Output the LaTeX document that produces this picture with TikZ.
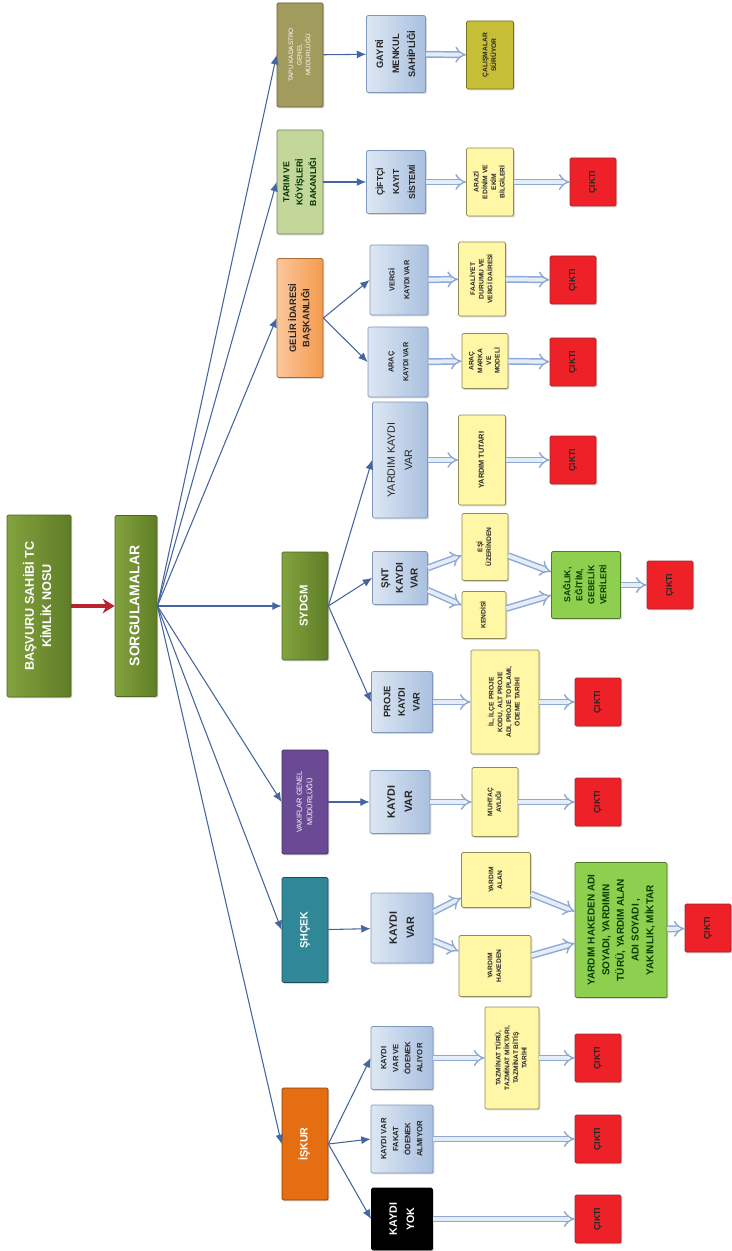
\documentclass[tikz,border=0pt]{standalone}
\usepackage{fontspec}
\setmainfont{Liberation Sans}
\usepackage{graphicx}
\usetikzlibrary{arrows.meta,shadows}

\definecolor{kokAcik}{HTML}{82A33E}
\definecolor{kokKoyu}{HTML}{5F7D27}
\definecolor{kokKenar}{HTML}{4E6820}
\definecolor{tapuRenk}{HTML}{A29B5E}
\definecolor{tarimRenk}{HTML}{C4D79B}
\definecolor{gelirAcik}{HTML}{FBC79A}
\definecolor{gelirKoyu}{HTML}{F59A4E}
\definecolor{vakifRenk}{HTML}{6A4A94}
\definecolor{shcekRenk}{HTML}{2F8798}
\definecolor{iskurRenk}{HTML}{E56E12}
\definecolor{maviAcik}{HTML}{DDE7F3}
\definecolor{maviKoyu}{HTML}{A9C0DF}
\definecolor{maviKenar}{HTML}{7F97BC}
\definecolor{sariDolgu}{HTML}{FFF7A6}
\definecolor{sariKenar}{HTML}{8E8B5A}
\definecolor{zeytin}{HTML}{C6BE36}
\definecolor{yesilDolgu}{HTML}{8FCF50}
\definecolor{yesilKenar}{HTML}{4F7A2A}
\definecolor{ciktiRenk}{HTML}{EE2128}
\definecolor{ciktiKenar}{HTML}{A0282C}
\definecolor{okKirmizi}{HTML}{B8232E}
\definecolor{dalMavi}{HTML}{44659F}
\definecolor{ciftMavi}{HTML}{8EAAD4}
\definecolor{ciftIc}{HTML}{E4ECF7}

\newcommand{\yazi}[2]{\fontsize{#1}{#2}\selectfont}
\newcommand{\dik}[1]{\rotatebox{90}{\begin{tabular}{@{}c@{}}#1\end{tabular}}}

\tikzset{
  sz/.style 2 args={minimum width=#1*0.75pt, minimum height=#2*0.75pt},
  kutu/.style={rectangle, inner sep=1pt, line width=0.6pt, rounded corners=1pt,
    drop shadow={opacity=0.3, shadow xshift=1pt, shadow yshift=-1pt}},
  kurum/.style={kutu, text=white},
  mavi/.style={kutu, draw=maviKenar, left color=maviAcik, right color=maviKoyu, text=black!85},
  sari/.style={kutu, draw=sariKenar, fill=sariDolgu, text=black!85, font=\yazi{5}{6.5}\bfseries},
  yesil/.style={kutu, draw=yesilKenar, fill=yesilDolgu, text=green!25!black, font=\yazi{7.5}{11}\bfseries},
  ciktikutu/.style={kutu, draw=ciktiKenar, fill=ciktiRenk, text=black!85, sz={46}{48}, font=\yazi{6.5}{8}\bfseries},
  kalinok/.style={draw=okKirmizi, line width=2.6pt, -{Stealth[length=9pt,width=11pt]}},
  dal/.style={draw=dalMavi, line width=0.8pt, -{Latex[length=7pt,width=6pt]}},
  cift/.style={draw=ciftMavi, double=ciftIc, double distance=3pt, line width=1.1pt, -{Implies}}
}

\begin{document}
\begin{tikzpicture}[x=0.75pt, y=-0.75pt]
  \useasboundingbox (0,0) rectangle (731,1251);

  % root and queries
  \node[kurum, sz={64}{182}, left color=kokAcik, right color=kokKoyu, draw=kokKenar, font=\yazi{9.5}{13}\bfseries] (basvuru) at (39,606) {\dik{BAŞVURU SAHİBİ TC\\KİMLİK NOSU}};
  \node[kurum, sz={42}{181}, left color=kokAcik, right color=kokKoyu, draw=kokKenar, font=\yazi{10.5}{13}\bfseries] (sorg) at (136,606) {\dik{SORGULAMALAR}};

  % institutions
  \node[kurum, sz={46}{104}, fill=tapuRenk, draw=tapuRenk!60!black, font=\yazi{4.8}{6.5}] (tapu) at (300,55) {\dik{TAPU KADASTRO\\GENEL\\MÜDÜRLÜĞÜ}};
  \node[kutu, sz={46}{104}, fill=tarimRenk, draw=tarimRenk!60!black, text=green!20!black, font=\yazi{6.5}{10}\bfseries] (tarim) at (300,182) {\dik{TARIM VE\\KÖYİŞLERİ\\BAKANLIĞI}};
  \node[kutu, sz={46}{119}, left color=gelirAcik, right color=gelirKoyu, draw=gelirKoyu!70!black, text=black!85, font=\yazi{7}{10}\bfseries] (gelir) at (300,318) {\dik{GELİR İDARESİ\\BAŞKANLIĞI}};
  \node[kurum, sz={46}{108}, left color=kokAcik, right color=kokKoyu, draw=kokKenar, font=\yazi{8.5}{10}\bfseries] (sydgm) at (305,606) {\dik{SYDGM}};
  \node[kurum, sz={46}{104}, fill=vakifRenk, draw=vakifRenk!60!black, font=\yazi{5.5}{8}] (vakif) at (305,802) {\dik{VAKIFLAR GENEL\\MÜDÜRLÜĞÜ}};
  \node[kurum, sz={46}{105}, fill=shcekRenk, draw=shcekRenk!60!black, font=\yazi{8}{10}\bfseries] (shcek) at (305,930) {\dik{ŞHÇEK}};
  \node[kurum, sz={46}{112}, fill=iskurRenk, draw=iskurRenk!60!black, font=\yazi{8}{10}\bfseries] (iskur) at (305,1144) {\dik{İŞKUR}};

  % records
  \node[mavi, sz={59}{77}, font=\yazi{7}{12}\bfseries] (gayri) at (396,54) {\dik{GAYRİ\\MENKUL\\SAHİPLİĞİ}};
  \node[mavi, sz={59}{63}, font=\yazi{6.5}{12}\bfseries] (ciftci) at (396,182) {\dik{ÇİFTÇİ\\KAYIT\\SİSTEMİ}};
  \node[mavi, sz={58}{70}, font=\yazi{5.5}{11}\bfseries] (vergi) at (399,280) {\dik{VERGİ\\KAYDI VAR}};
  \node[mavi, sz={60}{70}, font=\yazi{5.5}{11}\bfseries] (arac) at (398,362) {\dik{ARAÇ\\KAYDI VAR}};
  \node[mavi, sz={55}{116}, font=\yazi{8}{13}] (yardimk) at (400,460) {\dik{YARDIM KAYDI\\VAR}};
  \node[mavi, sz={55}{53}, font=\yazi{7.5}{11}\bfseries] (snt) at (400,578) {\dik{ŞNT\\KAYDI\\VAR}};
  \node[mavi, sz={61}{61}, font=\yazi{7}{11}\bfseries] (proje) at (402,702) {\dik{PROJE\\KAYDI\\VAR}};
  \node[mavi, sz={60}{63}, font=\yazi{8}{13}\bfseries] (vkaydi) at (400,802) {\dik{KAYDI\\VAR}};
  \node[mavi, sz={62}{70}, font=\yazi{8}{13}\bfseries] (skaydi) at (402,928) {\dik{KAYDI\\VAR}};
  \node[mavi, sz={62}{63}, font=\yazi{5.8}{9}\bfseries] (odenek) at (402,1058) {\dik{KAYDI\\VAR VE\\ÖDENEK\\ALIYOR}};
  \node[mavi, sz={62}{68}, font=\yazi{5.8}{9}\bfseries] (fakat) at (402,1139) {\dik{KAYDI VAR\\FAKAT\\ÖDENEK\\ALMIYOR}};
  \node[kurum, sz={61}{62}, fill=black, draw=black, font=\yazi{8}{13}\bfseries] (yok) at (402,1219) {\dik{KAYDI\\YOK}};

  % details
  \node[sari, sz={47}{68}, fill=zeytin, draw=zeytin!60!black] (calisma) at (490,55) {\dik{ÇALIŞMALAR\\SÜRÜYOR}};
  \node[sari, sz={47}{68}] (arazi) at (490,182) {\dik{ARAZİ\\EDİNİM VE\\EKİM\\BİLGİLERİ}};
  \node[sari, sz={47}{74}] (faaliyet) at (482,279) {\dik{FAALİYET\\DURUMU VE\\VERGİ DAİRESİ}};
  \node[sari, sz={46}{55}] (marka) at (485,361) {\dik{ARAÇ\\MARKA\\VE\\MODELİ}};
  \node[sari, sz={47}{90}, font=\yazi{5.5}{7}\bfseries] (tutari) at (482,460) {\dik{YARDIM TUTARI}};
  \node[sari, sz={46}{67}] (esi) at (485,547) {\dik{EŞİ\\ÜZERİNDEN}};
  \node[sari, sz={44}{47}] (kendisi) at (484,615) {\dik{KENDİSİ}};
  \node[sari, sz={68}{104}] (il) at (505,702) {\dik{İL, İLÇE PROJE\\KODU, ALT PROJE\\ADI, PROJE TOPLAMI,\\ÖDEME TARİHİ}};
  \node[sari, sz={46}{69}] (muhtac) at (495,802) {\dik{MUHTAÇ\\AYLIĞI}};
  \node[sari, sz={69}{55}] (alan) at (496,880) {\dik{YARDIM\\ALAN}};
  \node[sari, sz={72}{61}] (hakeden) at (495,966) {\dik{YARDIM\\HAKEDEN}};
  \node[sari, sz={54}{102}] (tazminat) at (512,1058) {\dik{TAZMİNAT TÜRÜ,\\TAZMİNAT MİKTARI,\\TAZMİNAT BİTİŞ\\TARİHİ}};
  \node[yesil, sz={69}{67}, font=\yazi{6.5}{9}\bfseries] (saglik) at (586,585) {\dik{SAĞLIK,\\EĞİTİM,\\GEBELİK\\VERİLERİ}};
  \node[yesil, sz={92}{135}] (shveri) at (621,930) {\dik{YARDIM HAKEDEN ADI\\SOYADI, YARDIMIN\\TÜRÜ, YARDIM ALAN\\ADI SOYADI ,\\YAKINLIK, MİKTAR}};

  % outputs
  \node[ciktikutu] (cikti1) at (593,182) {\dik{ÇIKTI}};
  \node[ciktikutu] (cikti2) at (573,280) {\dik{ÇIKTI}};
  \node[ciktikutu] (cikti3) at (573,362) {\dik{ÇIKTI}};
  \node[ciktikutu] (cikti4) at (573,460) {\dik{ÇIKTI}};
  \node[ciktikutu] (cikti5) at (670,585) {\dik{ÇIKTI}};
  \node[ciktikutu] (cikti6) at (598,702) {\dik{ÇIKTI}};
  \node[ciktikutu] (cikti7) at (598,802) {\dik{ÇIKTI}};
  \node[ciktikutu] (cikti8) at (708,928) {\dik{ÇIKTI}};
  \node[ciktikutu] (cikti9) at (598,1058) {\dik{ÇIKTI}};
  \node[ciktikutu] (cikti10) at (598,1139) {\dik{ÇIKTI}};
  \node[ciktikutu] (cikti11) at (598,1219) {\dik{ÇIKTI}};

  % connectors
  \draw[kalinok] (basvuru) -- (sorg);
  \foreach \k in {tapu,tarim,gelir,sydgm,vakif,shcek,iskur}
    \draw[dal] (sorg.east) -- (\k.west);
  \draw[dal] (tapu) -- (gayri);
  \draw[dal] (tarim) -- (ciftci);
  \draw[dal] (vakif) -- (vkaydi);
  \draw[dal] (shcek) -- (skaydi);
  \foreach \k in {vergi,arac}
    \draw[dal] (gelir.east) -- (\k.west);
  \foreach \k in {snt,yardimk,proje}
    \draw[dal] (sydgm.east) -- (\k.west);
  \foreach \k in {odenek,fakat,yok}
    \draw[dal] (iskur.east) -- (\k.west);

  \foreach \a/\b in {gayri/calisma, ciftci/arazi, arazi/cikti1, vergi/faaliyet, faaliyet/cikti2,
      arac/marka, marka/cikti3, yardimk/tutari, tutari/cikti4, snt/esi, snt/kendisi,
      esi/saglik, kendisi/saglik, saglik/cikti5, proje/il, il/cikti6, vkaydi/muhtac, muhtac/cikti7,
      skaydi/alan, skaydi/hakeden, alan/shveri, hakeden/shveri, shveri/cikti8,
      odenek/tazminat, tazminat/cikti9, fakat/cikti10, yok/cikti11}
    \draw[cift] (\a) -- (\b);
\end{tikzpicture}
\end{document}
